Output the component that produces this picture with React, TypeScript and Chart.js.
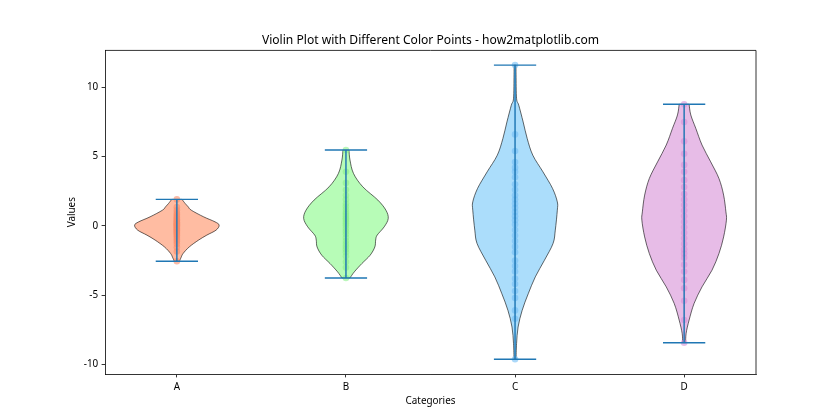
import React, { useEffect, useRef } from "react";
import { Chart, registerables } from "chart.js";

Chart.register(...registerables);

// ---- data ----
const categories = ["A", "B", "C", "D"];

const valuesA = [1.91, 1.35, 1.12, 0.95, 0.82, 0.71, 0.6, 0.52, 0.44, 0.38, 0.3, 0.24, 0.18, 0.12, 0.07, 0.02, -0.04, -0.09, -0.15, -0.21, -0.27, -0.33, -0.4, -0.48, -0.56, -0.65, -0.74, -0.86, -0.98, -1.12, -1.3, -1.55, -1.85, -2.55];
const valuesB = [5.47, 3.9, 3.1, 2.6, 2.2, 1.9, 1.6, 1.4, 1.2, 1.0, 0.85, 0.7, 0.55, 0.45, 0.3, 0.15, 0.0, -0.2, -0.4, -0.6, -0.85, -1.1, -1.3, -1.5, -1.7, -1.9, -2.2, -2.6, -3.0, -3.76];
const valuesC = [11.6, 6.6, 5.4, 4.6, 4.2, 3.9, 3.5, 3.0, 2.6, 2.2, 1.9, 1.6, 1.3, 1.0, 0.7, 0.4, 0.1, -0.3, -0.7, -1.1, -1.5, -1.9, -2.5, -2.9, -3.3, -3.8, -4.2, -4.7, -5.2, -6.1, -6.7, -9.63];
const valuesD = [8.77, 7.5, 6.1, 5.2, 4.4, 3.9, 3.3, 2.8, 2.3, 1.9, 1.5, 1.1, 0.7, 0.3, -0.1, -0.5, -0.9, -1.3, -1.7, -2.0, -2.3, -2.8, -3.3, -3.9, -4.5, -5.4, -6.8, -8.43];

// violin density profiles (value, relative density)
const profileYA = [1.91, 1.62, 1.37, 1.13, 0.65, 0.29, 0.05, -0.31, -0.67, -1.03, -1.52, -2.0, -2.3, -2.55];
const profileDA = [5, 8, 11, 14, 26, 37, 41, 38, 29, 21, 12, 6, 4, 2.5];
const profileYB = [5.47, 4.75, 3.78, 2.82, 1.86, 1.13, 0.53, -0.07, -0.67, -1.03, -1.52, -2.12, -2.72, -3.32, -3.76];
const profileDB = [3, 4, 7.5, 16.7, 31.7, 39.7, 42, 38, 31, 29.5, 28.7, 24, 15.8, 8.3, 4];
const profileYC = [11.6, 10.9, 9.2, 8.7, 7.5, 6.3, 5.1, 3.9, 2.7, 1.73, 1.13, -0.31, -1.27, -2.48, -3.68, -4.9, -6.1, -7.3, -8.5, -9.63];
const profileDC = [1, 1, 1.5, 3.7, 8, 12, 17.5, 27.5, 37, 41.7, 41.7, 39.7, 37.5, 29, 20, 13, 7, 3, 1.5, 1];
const profileYD = [8.77, 8.0, 7.04, 5.83, 4.62, 3.42, 2.22, 1.01, 0.41, -0.8, -2.0, -3.2, -4.4, -5.6, -6.8, -7.75, -8.43];
const profileDD = [5, 6.7, 11.7, 18, 26.7, 35, 39.7, 42, 42.5, 39.7, 35, 28, 18, 10, 5, 2, 1.5];

const yTicks = [-10, -5, 0, 5, 10];

const allValues = [valuesA, valuesB, valuesC, valuesD];
const profiles = [
  { ys: profileYA, ds: profileDA },
  { ys: profileYB, ds: profileDB },
  { ys: profileYC, ds: profileDC },
  { ys: profileYD, ds: profileDD },
];

const bodyColors = ["rgba(255,160,122,0.7)", "rgba(152,251,152,0.7)", "rgba(135,206,250,0.7)", "rgba(221,160,221,0.7)"];
const pointColors = ["rgba(250,140,105,0.6)", "rgba(140,240,140,0.6)", "rgba(115,190,245,0.6)", "rgba(215,145,215,0.6)"];
const lineColor = "#1f77b4";
const FONT = "'Noto Sans', 'Open Sans', sans-serif";

type P = { x: number; y: number };

function smoothPath(ctx: CanvasRenderingContext2D, pts: P[], moveFirst: boolean) {
  if (moveFirst) ctx.moveTo(pts[0].x, pts[0].y);
  else ctx.lineTo(pts[0].x, pts[0].y);
  for (let i = 0; i < pts.length - 1; i++) {
    const p0 = pts[Math.max(0, i - 1)];
    const p1 = pts[i];
    const p2 = pts[i + 1];
    const p3 = pts[Math.min(pts.length - 1, i + 2)];
    const c1x = p1.x + (p2.x - p0.x) / 6;
    const c1y = p1.y + (p2.y - p0.y) / 6;
    const c2x = p2.x - (p3.x - p1.x) / 6;
    const c2y = p2.y - (p3.y - p1.y) / 6;
    ctx.bezierCurveTo(c1x, c1y, c2x, c2y, p2.x, p2.y);
  }
}

const violinPlugin = {
  id: "violins",
  beforeDatasetsDraw(chart: any) {
    const { ctx, scales } = chart;
    const xs = scales.x;
    const ys = scales.y;
    ctx.save();
    profiles.forEach((p, i) => {
      const c = i + 1;
      const maxD = Math.max(...p.ds);
      const right: P[] = p.ys.map((v, k) => ({
        x: xs.getPixelForValue(c + 0.25 * (p.ds[k] / maxD)),
        y: ys.getPixelForValue(v),
      }));
      const left: P[] = p.ys
        .map((v, k) => ({
          x: xs.getPixelForValue(c - 0.25 * (p.ds[k] / maxD)),
          y: ys.getPixelForValue(v),
        }))
        .reverse();
      ctx.beginPath();
      smoothPath(ctx, right, true);
      smoothPath(ctx, left, false);
      ctx.closePath();
      ctx.fillStyle = bodyColors[i];
      ctx.fill();
      ctx.lineWidth = 0.9;
      ctx.strokeStyle = "rgba(0,0,0,0.65)";
      ctx.stroke();
    });
    ctx.restore();
  },
  afterDatasetsDraw(chart: any) {
    const { ctx, scales } = chart;
    const xs = scales.x;
    const ys = scales.y;
    ctx.save();
    ctx.strokeStyle = lineColor;
    ctx.lineWidth = 1.45;
    allValues.forEach((vals, i) => {
      const c = i + 1;
      const mn = Math.min(...vals);
      const mx = Math.max(...vals);
      const xc = xs.getPixelForValue(c);
      const xl = xs.getPixelForValue(c - 0.125);
      const xr = xs.getPixelForValue(c + 0.125);
      const yT = ys.getPixelForValue(mx);
      const yB = ys.getPixelForValue(mn);
      ctx.beginPath();
      ctx.moveTo(xc, yT);
      ctx.lineTo(xc, yB);
      ctx.moveTo(xl, yT);
      ctx.lineTo(xr, yT);
      ctx.moveTo(xl, yB);
      ctx.lineTo(xr, yB);
      ctx.stroke();
    });
    ctx.restore();
  },
  afterDraw(chart: any) {
    const { ctx, chartArea } = chart;
    ctx.save();
    ctx.strokeStyle = "#000";
    ctx.lineWidth = 0.8;
    ctx.beginPath();
    ctx.moveTo(chartArea.left, chartArea.top);
    ctx.lineTo(chartArea.right, chartArea.top);
    ctx.lineTo(chartArea.right, chartArea.bottom);
    ctx.stroke();
    ctx.restore();
  },
};

export default function App() {
  const ref = useRef<HTMLCanvasElement | null>(null);
  useEffect(() => {
    if (!ref.current) return;
    const tickFont = { family: FONT, size: 9.9 };
    const chart = new Chart(ref.current, {
      type: "scatter",
      data: {
        datasets: allValues.map((vals, i) => ({
          label: categories[i],
          data: vals.map((v) => ({ x: i + 1, y: v })),
          pointRadius: 3.3,
          pointHoverRadius: 3.3,
          pointBackgroundColor: pointColors[i],
          pointBorderWidth: 0,
          showLine: false,
        })),
      },
      options: {
        responsive: false,
        animation: false,
        events: [],
        layout: { padding: { left: 0, right: 84, top: 0, bottom: 0 } },
        plugins: {
          legend: { display: false },
          tooltip: { enabled: false },
          title: {
            display: true,
            text: "Violin Plot with Different Color Points - how2matplotlib.com",
            color: "#000",
            fullSize: false,
            font: { family: FONT, size: 12.1, weight: "normal" },
            padding: { top: 32.8, bottom: 3.1 },
          },
        },
        scales: {
          x: {
            type: "linear",
            min: 0.575,
            max: 4.425,
            afterBuildTicks: (s: any) => {
              s.ticks = categories.map((_, i) => ({ value: i + 1 }));
            },
            afterFit: (s: any) => {
              s.height = 46;
            },
            ticks: {
              autoSkip: false,
              maxRotation: 0,
              color: "#000",
              font: tickFont,
              padding: 3.4,
              callback: (_v: any, idx: number) => categories[idx],
            },
            grid: { display: true, drawOnChartArea: false, drawTicks: true, tickLength: 3.4, color: "#000", lineWidth: 0.8 },
            border: { display: true, color: "#000", width: 0.8 },
            title: {
              display: true,
              text: "Categories",
              color: "#000",
              font: { family: FONT, size: 9.9 },
              padding: { top: 0, bottom: 13 },
            },
          },
          y: {
            type: "linear",
            min: -10.69,
            max: 12.66,
            afterBuildTicks: (s: any) => {
              s.ticks = yTicks.map((v) => ({ value: v }));
            },
            afterFit: (s: any) => {
              s.width = 105;
            },
            ticks: {
              color: "#000",
              font: tickFont,
              padding: 3.4,
              callback: (v: any) => String(v),
            },
            grid: { display: true, drawOnChartArea: false, drawTicks: true, tickLength: 3.4, color: "#000", lineWidth: 0.8 },
            border: { display: true, color: "#000", width: 0.8 },
            title: {
              display: true,
              text: "Values",
              color: "#000",
              font: { family: FONT, size: 9.9 },
              padding: { top: 66, bottom: 0 },
            },
          },
        },
      },
      plugins: [violinPlugin],
    } as any);
    return () => chart.destroy();
  }, []);
  return (
    <div style={{ position: "absolute", left: 0, top: 0, width: 840, height: 420, background: "#fff" }}>
      <canvas ref={ref} width={840} height={420} />
    </div>
  );
}
